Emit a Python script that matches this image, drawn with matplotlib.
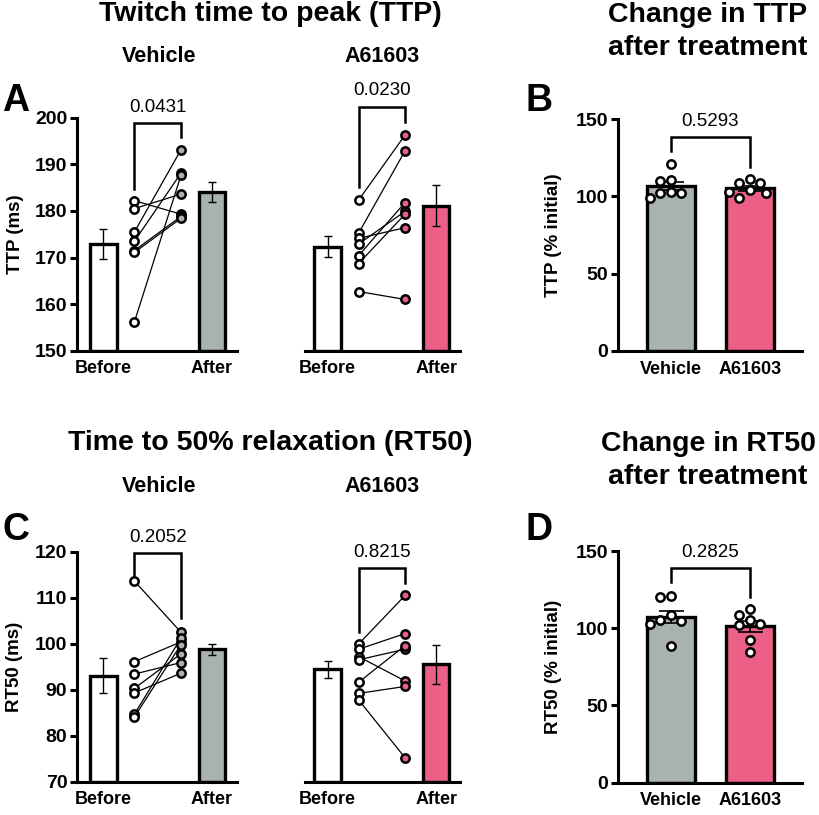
import numpy as np
import matplotlib.pyplot as plt

plt.rcParams['font.family'] = ['Liberation Sans', 'DejaVu Sans']

W, H = 819, 815
GREY = '#a8b2b0'
PINK = '#ec5f86'

# twitch time to peak (ms), paired before / after, n=7
ttp_veh_before = [182.2, 180.5, 175.5, 173.5, 171.5, 171.1, 156.2]
ttp_veh_after = [179.3, 183.6, 193.1, 188.1, 178.8, 178.4, 187.6]
ttp_a6_before = [182.3, 175.2, 174.1, 172.9, 170.4, 168.7, 162.7]
ttp_a6_after = [196.3, 192.9, 176.4, 179.9, 181.8, 179.3, 161.0]

# time to 50% relaxation (ms), paired before / after
rt50_veh_before = [113.6, 96.1, 93.4, 90.3, 89.3, 84.7, 84.1]
rt50_veh_after = [102.5, 100.4, 95.9, 97.8, 93.6, 101.2, 99.8]
rt50_a6_before = [99.9, 98.8, 97.2, 96.5, 91.6, 89.2, 87.8]
rt50_a6_after = [110.5, 102.2, 91.9, 98.8, 99.6, 90.7, 75.2]

# change after treatment (% of initial)
ttp_pct_veh = [120.7, 110.5, 110.1, 102.6, 102.3, 101.9, 98.7]
ttp_pct_a6 = [111.0, 108.4, 108.4, 104.1, 103.0, 102.3, 99.1]
rt50_pct_veh = [120.9, 120.1, 108.6, 105.4, 104.9, 102.6, 88.5]
rt50_pct_a6 = [112.5, 108.6, 105.4, 102.6, 102.1, 92.4, 84.8]

pair_labels = ['Before', 'After']
group_labels = ['Vehicle', 'A61603']

p_ttp = ['0.0431', '0.0230', '0.5293']
p_rt50 = ['0.2052', '0.8215', '0.2825']

MS, MEW = 6.0, 1.8


def px_axes(fig, left, top, right, bottom):
    return fig.add_axes([left / W, 1 - bottom / H, (right - left) / W, (bottom - top) / H])


def mean_sem(v):
    v = np.asarray(v)
    return v.mean(), v.std(ddof=1) / np.sqrt(len(v))


def style_axis(ax, show_y):
    for s in ['top', 'right']:
        ax.spines[s].set_visible(False)
    ax.spines['bottom'].set_linewidth(2.2)
    ax.spines['left'].set_linewidth(2.2)
    ax.tick_params(axis='y', direction='out', length=5, width=2.2, labelsize=14, pad=2)
    ax.tick_params(axis='x', length=0, labelsize=13, pad=7)
    if not show_y:
        ax.spines['left'].set_visible(False)
        ax.tick_params(axis='y', left=False, labelleft=False)
    for lab in ax.get_xticklabels() + ax.get_yticklabels():
        lab.set_fontweight('bold')


def bracket(ax, x1, x2, y1, ytop, y2, text):
    ax.plot([x1, x1, x2, x2], [y1, ytop, ytop, y2], color='black', lw=1.8,
            clip_on=False, zorder=5, solid_joinstyle='miter')
    ax.annotate(text, ((x1 + x2) / 2, ytop), xytext=(0, 8), textcoords='offset points',
                ha='center', va='baseline', fontsize=13.5, annotation_clip=False)


def paired_panel(ax, before, after, color, ylim, yticks, xlim, show_y, p_text, br):
    n = len(before)
    m_b, s_b = mean_sem(before)
    m_a, s_a = mean_sem(after)
    ax.set_xlim(*xlim)
    ax.set_ylim(*ylim)
    ax.bar([0, 3.5], [m_b - ylim[0], m_a - ylim[0]], bottom=ylim[0], width=0.85,
           color=['white', color], edgecolor='black', linewidth=2.4, zorder=2)
    ax.errorbar([0, 3.5], [m_b, m_a], yerr=[s_b, s_a], fmt='none', ecolor='black',
                elinewidth=1, capsize=3, capthick=1, zorder=3)
    for b, a in zip(before, after):
        ax.plot([1, 2.5], [b, a], color='black', lw=0.9, zorder=3)
    ax.plot([1] * n, before, 'o', ms=MS, mfc='white', mec='black', mew=MEW, zorder=4, clip_on=False)
    ax.plot([2.5] * n, after, 'o', ms=MS, mfc=color, mec='black', mew=MEW, zorder=4, clip_on=False)
    ax.set_yticks(yticks)
    ax.set_xticks([0, 3.5])
    ax.set_xticklabels(pair_labels)
    style_axis(ax, show_y)
    bracket(ax, 1, 2.5, br[0], br[1], br[2], p_text)


def swarm_offsets(ax, x0, values, diam=10.5):
    # tiny beeswarm: highest first, nudged sideways when overlapping
    values = np.asarray(values)
    placed = []
    offs = np.zeros(len(values))
    for i in np.argsort(values)[::-1]:
        yp = ax.transData.transform((x0, values[i]))[1]
        for k in [0, -1, 1, -2, 2, -3, 3, -4, 4]:
            xp = k * diam / 2
            if all(np.hypot(xp - qx, yp - qy) >= diam * 0.95 for qx, qy in placed):
                break
        placed.append((xp, yp))
        offs[i] = xp
    sx = ax.transData.transform((1, 0))[0] - ax.transData.transform((0, 0))[0]
    return offs / sx


def change_panel(ax, veh, a6, p_text, br):
    ax.set_xlim(-0.67, 1.66)
    ax.set_ylim(0, 150)
    means, sems = zip(mean_sem(veh), mean_sem(a6))
    ax.bar([0, 1], means, width=0.6, color=[GREY, PINK], edgecolor='black', linewidth=2.4, zorder=2)
    ax.errorbar([0, 1], means, yerr=sems, fmt='none', ecolor='black',
                elinewidth=1.2, capsize=9, capthick=1.2, zorder=3)
    for x0, vals in [(0, veh), (1, a6)]:
        offs = swarm_offsets(ax, x0, vals)
        ax.plot(x0 + offs, vals, 'o', ms=MS, mfc='white', mec='black', mew=MEW, zorder=4)
    ax.set_yticks([0, 50, 100, 150])
    ax.set_xticks([0, 1])
    ax.set_xticklabels(group_labels)
    style_axis(ax, True)
    bracket(ax, 0, 1, br[0], br[1], br[2], p_text)


def ftext(fig, x, y, s, **kw):
    fig.text(x / W, 1 - y / H, s, **kw)


def main():
    fig = plt.figure(figsize=(W / 100, H / 100), dpi=100)

    # row 1: TTP
    ax = px_axes(fig, 77, 117.7, 237, 350.7)
    paired_panel(ax, ttp_veh_before, ttp_veh_after, GREY, (150, 200), range(150, 201, 10),
                 (-0.855, 4.31), True, p_ttp[0], (184.7, 198.9, 195.9))
    ax = px_axes(fig, 305, 117.7, 460, 350.7)
    paired_panel(ax, ttp_a6_before, ttp_a6_after, PINK, (150, 200), range(150, 201, 10),
                 (-0.726, 4.27), False, p_ttp[1], (185.2, 202.4, 199.0))
    ax = px_axes(fig, 618, 119, 802, 351)
    change_panel(ax, ttp_pct_veh, ttp_pct_a6, p_ttp[2], (129.3, 138.5, 119.1))

    # row 2: RT50
    ax = px_axes(fig, 77, 551.7, 237, 781.7)
    paired_panel(ax, rt50_veh_before, rt50_veh_after, GREY, (70, 120), range(70, 121, 10),
                 (-0.855, 4.31), True, p_rt50[0], (114.9, 119.65, 105.5))
    ax = px_axes(fig, 305, 551.7, 460, 781.7)
    paired_panel(ax, rt50_a6_before, rt50_a6_after, PINK, (70, 120), range(70, 121, 10),
                 (-0.726, 4.27), False, p_rt50[1], (102.6, 116.4, 113.3))
    ax = px_axes(fig, 618, 551, 802, 782.7)
    change_panel(ax, rt50_pct_veh, rt50_pct_a6, p_rt50[2], (130.2, 139.2, 120.5))

    bold = dict(fontweight='bold', va='baseline')
    ftext(fig, 270, 21, 'Twitch time to peak (TTP)', ha='center', fontsize=20.5, **bold)
    ftext(fig, 708, 22, 'Change in TTP', ha='center', fontsize=20.5, **bold)
    ftext(fig, 708, 55, 'after treatment', ha='center', fontsize=20.5, **bold)
    ftext(fig, 159.5, 62, 'Vehicle', ha='center', fontsize=15.5, **bold)
    ftext(fig, 382.5, 62, 'A61603', ha='center', fontsize=15.5, **bold)

    ftext(fig, 270, 450, 'Time to 50% relaxation (RT50)', ha='center', fontsize=20.5, **bold)
    ftext(fig, 708, 451, 'Change in RT50', ha='center', fontsize=20.5, **bold)
    ftext(fig, 708, 484, 'after treatment', ha='center', fontsize=20.5, **bold)
    ftext(fig, 159.5, 492, 'Vehicle', ha='center', fontsize=15.5, **bold)
    ftext(fig, 382.5, 492, 'A61603', ha='center', fontsize=15.5, **bold)

    ftext(fig, 2, 111, 'A', ha='left', fontsize=27, **bold)
    ftext(fig, 526, 111, 'B', ha='left', fontsize=27, **bold)
    ftext(fig, 2, 540, 'C', ha='left', fontsize=27, **bold)
    ftext(fig, 526, 540, 'D', ha='left', fontsize=27, **bold)

    ylab = dict(rotation=90, ha='center', va='center', fontsize=13.5, fontweight='bold')
    ftext(fig, 15, 234, 'TTP (ms)', **ylab)
    ftext(fig, 553, 235, 'TTP (% initial)', **ylab)
    ftext(fig, 15, 667, 'RT50 (ms)', **ylab)
    ftext(fig, 553, 667, 'RT50 (% initial)', **ylab)

    fig.savefig('out.png', dpi=100)


if __name__ == '__main__':
    main()
